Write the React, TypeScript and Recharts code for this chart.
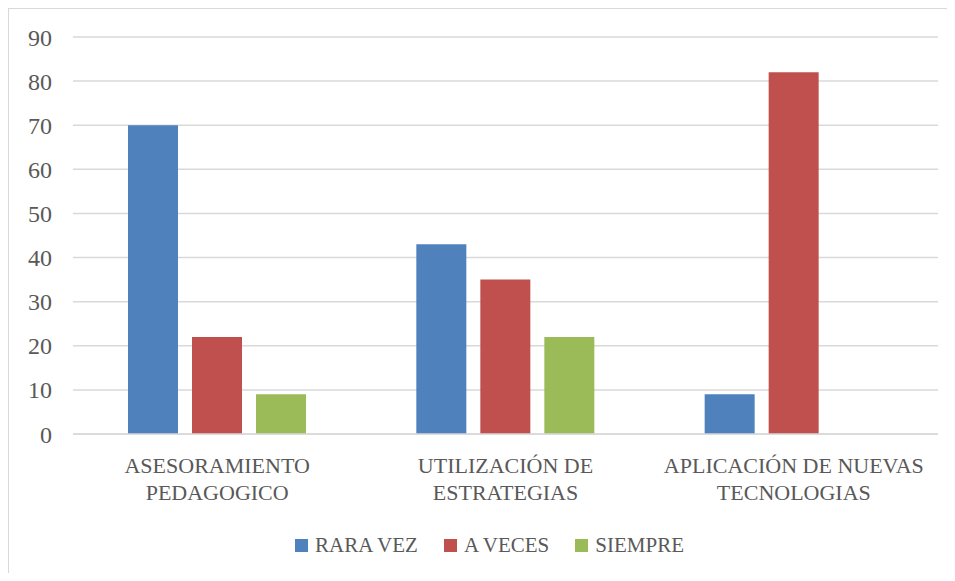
import React from 'react';
import { BarChart, Bar, XAxis, YAxis, CartesianGrid, Legend } from 'recharts';

const categories = ['ASESORAMIENTO PEDAGOGICO', 'UTILIZACIÓN DE ESTRATEGIAS', 'APLICACIÓN DE NUEVAS TECNOLOGIAS'];
const categoryLines = [
  ['ASESORAMIENTO', 'PEDAGOGICO'],
  ['UTILIZACIÓN DE', 'ESTRATEGIAS'],
  ['APLICACIÓN DE NUEVAS', 'TECNOLOGIAS'],
];
const raraVez = [70, 43, 9];
const aVeces = [22, 35, 82];
const siempre: (number | null)[] = [9, 22, null];
const seriesNames = ['RARA VEZ', 'A VECES', 'SIEMPRE'];
const seriesKeys = ['raraVez', 'aVeces', 'siempre'];
const seriesColors = ['#4F81BD', '#C0504D', '#9BBB59'];
const yTicks = [0, 10, 20, 30, 40, 50, 60, 70, 80, 90];

const data = categories.map((c, i) => ({
  name: c,
  raraVez: raraVez[i],
  aVeces: aVeces[i],
  siempre: siempre[i],
}));

const FONT = '"Liberation Serif", "Times New Roman", serif';
const TEXT_COLOR = '#595959';

const CategoryTick = (props: any) => {
  const { x, y, payload } = props;
  const idx = categories.indexOf(payload.value);
  const lines = idx >= 0 ? categoryLines[idx] : [String(payload.value)];
  return (
    <text x={x} y={y} textAnchor="middle" fill={TEXT_COLOR} fontFamily={FONT} fontSize={22}>
      {lines.map((l, i) => (
        <tspan key={i} x={x} y={y + 31 + i * 27}>
          {l}
        </tspan>
      ))}
    </text>
  );
};

const renderLegend = () => (
  <div
    style={{
      display: 'flex',
      alignItems: 'center',
      fontFamily: FONT,
      fontSize: 21,
      color: TEXT_COLOR,
      lineHeight: '26px',
      whiteSpace: 'nowrap',
    }}
  >
    {seriesNames.map((n, i) => (
      <div key={n} style={{ display: 'flex', alignItems: 'center', marginRight: i < seriesNames.length - 1 ? 26 : 0 }}>
        <span style={{ display: 'inline-block', width: 13, height: 13, background: seriesColors[i], marginRight: 7 }} />
        <span>{n}</span>
      </div>
    ))}
  </div>
);

export default function App() {
  return (
    <div style={{ position: 'relative', margin: -8, width: 955, height: 581, overflow: 'hidden', background: '#fff' }}>
      <div
        style={{
          position: 'absolute',
          left: 7,
          top: 7,
          width: 1000,
          height: 1000,
          border: '2px solid #d9d9d9',
          boxSizing: 'border-box',
        }}
      />
      <div style={{ position: 'absolute', left: 0, top: 0 }}>
        <BarChart
          width={955}
          height={581}
          data={data}
          margin={{ top: 37, right: 17, bottom: 0, left: 0 }}
          barCategoryGap={55}
          barGap={14}
        >
          <CartesianGrid vertical={false} stroke="#d9d9d9" strokeWidth={1.5} />
          <XAxis
            dataKey="name"
            height={147}
            axisLine={{ stroke: '#d9d9d9', strokeWidth: 1.5 }}
            tickLine={false}
            interval={0}
            tick={<CategoryTick />}
          />
          <YAxis
            width={73}
            domain={[0, 90]}
            ticks={yTicks}
            interval={0}
            axisLine={false}
            tickLine={false}
            tickMargin={15}
            tick={{ fill: TEXT_COLOR, fontFamily: FONT, fontSize: 24 }}
          />
          <Legend
            verticalAlign="middle"
            layout="horizontal"
            align="center"
            content={renderLegend}
            wrapperStyle={{ left: 295, top: 532, width: 'auto', height: 26 }}
          />
          {seriesKeys.map((k, i) => (
            <Bar key={k} dataKey={k} name={seriesNames[i]} fill={seriesColors[i]} isAnimationActive={false} />
          ))}
        </BarChart>
      </div>
    </div>
  );
}
